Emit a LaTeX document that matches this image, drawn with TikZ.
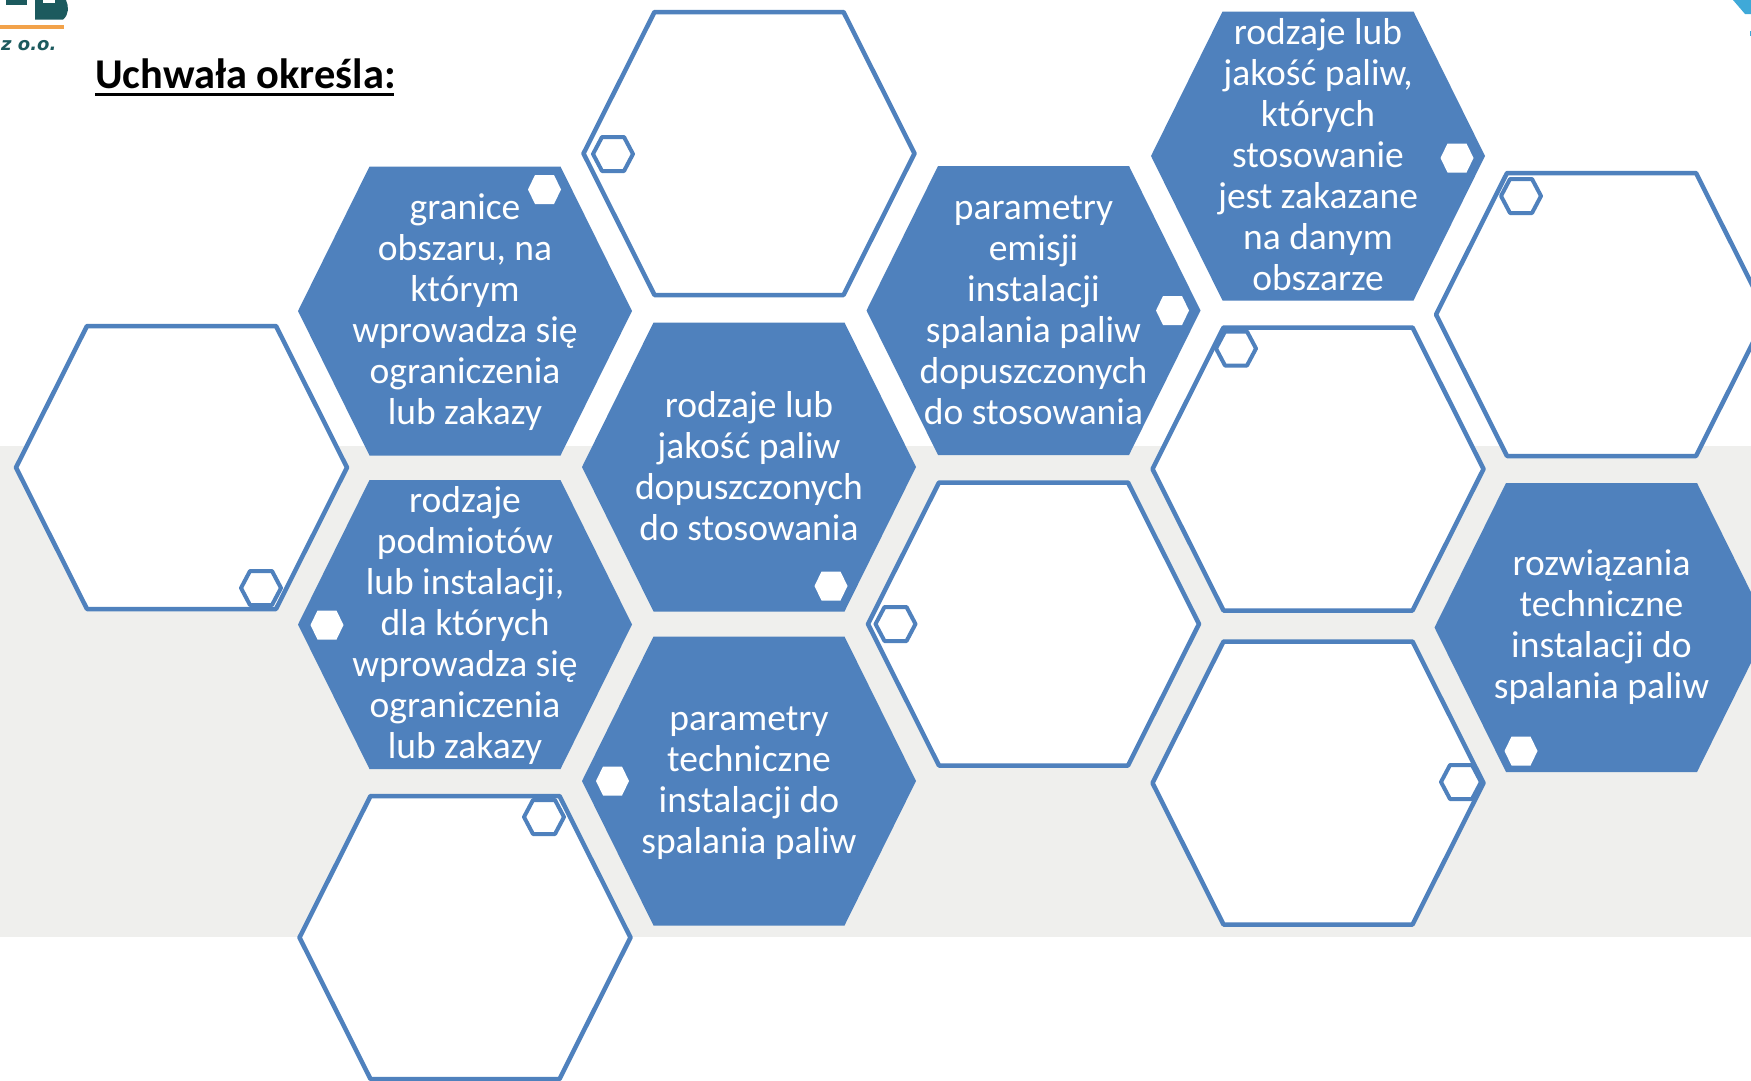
\documentclass[tikz,border=0pt]{standalone}
\usepackage{fontspec}
\setmainfont{Carlito}
\newfontfamily\logofont{DejaVu Sans}
\definecolor{hexblue}{HTML}{4F81BD}
\definecolor{band}{HTML}{EFEFED}
\definecolor{logoteal}{HTML}{1C5A5E}
\definecolor{logoorange}{HTML}{F2A24A}
\definecolor{logoblue}{HTML}{3FA9D8}
\newcommand{\hexshape}[6]{\draw[#1] (#2-#4,#3) -- (#2-#6,#3-#5) -- (#2+#6,#3-#5) -- (#2+#4,#3) -- (#2+#6,#3+#5) -- (#2-#6,#3+#5) -- cycle;}
\newcommand{\bigfilled}[2]{\hexshape{bigfill}{#1}{#2}{167}{144.5}{95.5}}
\newcommand{\bigoutline}[2]{\hexshape{bigline}{#1}{#2}{165.5}{141.5}{94.5}}
\newcommand{\smallfilled}[2]{\hexshape{tinyfill}{#1}{#2}{16.5}{14.5}{9.5}}
\newcommand{\smalloutline}[2]{\hexshape{tinyline}{#1}{#2}{20}{17}{11}}
\tikzset{
  bigfill/.style={fill=hexblue,draw=none},
  bigline/.style={fill=white,draw=hexblue,line width=4.5pt,line join=round},
  tinyfill/.style={fill=white,draw=none},
  tinyline/.style={fill=white,draw=hexblue,line width=4pt,line join=round},
  hextext/.style={text=white,align=center,font=\fontsize{37.5}{41}\selectfont,inner sep=0pt},
}
\begin{document}
\begin{tikzpicture}[x=1pt,y=-1pt]
\useasboundingbox (0,0) rectangle (1751,1080);
\clip (0,0) rectangle (1751,1080);
\fill[white] (0,0) rectangle (1751,1080);
\fill[band] (0,446) rectangle (1751,937);
% logo fragments
\fill[logoteal] (6,0) rectangle (27,4.5);
\fill[logoteal] (35,0) -- (66,0) .. controls (69,6) and (69,15) .. (63,19.5) -- (35,19.5) -- cycle;
\fill[white] (43,0) rectangle (55,2.5);
\fill[logoorange] (0,24.5) rectangle (64,29);
\node[anchor=base west,inner sep=0pt,text=logoteal,font=\logofont\fontsize{18}{20}\selectfont\bfseries\itshape] (logotext) at (1,50) {z o.o.};
\fill[logoblue] (1733,0) -- (1751,0) -- (1751,14) -- (1745,14) -- cycle;
\fill[logoblue] (1749.5,31) rectangle (1751,36);
% outline hexagons
\bigoutline{181.5}{467.5}
\bigoutline{749}{153.5}
\bigoutline{465}{937.5}
\bigoutline{1033.5}{624}
\bigoutline{1318}{469}
\bigoutline{1318}{783}
\bigoutline{1601.5}{314.5}
% filled hexagons
\bigfilled{465}{311}
\bigfilled{465}{624.5}
\bigfilled{749}{467}
\bigfilled{749}{781}
\bigfilled{1033.5}{310.5}
\bigfilled{1318}{156}
\bigfilled{1601.5}{627.5}
% small hexagons
\smalloutline{261}{588}
\smalloutline{613}{154}
\smalloutline{544}{817}
\smalloutline{895.5}{624}
\smalloutline{1236}{348.5}
\smalloutline{1461}{782}
\smalloutline{1521}{196}
\smallfilled{544.5}{189.5}
\smallfilled{327}{625}
\smallfilled{831}{586}
\smallfilled{612.5}{781}
\smallfilled{1172.5}{310.5}
\smallfilled{1457}{158}
\smallfilled{1521}{751}
% texts
\node[anchor=base west,inner sep=0pt,font=\fontsize{42.4}{48}\selectfont\bfseries] (title) at (95,88) {Uchwała określa:};
\draw[line width=3.5pt] (95,94.5) -- (394,94.5);
\node[hextext] (granice) at (465,312) {granice\\obszaru, na\\którym\\wprowadza się\\ograniczenia\\lub zakazy};
\node[hextext] (podmioty) at (465,625) {rodzaje\\podmiotów\\lub instalacji,\\dla których\\wprowadza się\\ograniczenia\\lub zakazy};
\node[hextext] (jakosc) at (749,466) {rodzaje lub\\jakość paliw\\dopuszczonych\\do stosowania};
\node[hextext] (techniczne) at (749,783) {parametry\\techniczne\\instalacji do\\spalania paliw};
\node[hextext] (emisja) at (1033.5,310) {parametry\\emisji\\instalacji\\spalania paliw\\dopuszczonych\\do stosowania};
\node[hextext] (zakazane) at (1318,155) {rodzaje lub\\jakość paliw,\\których\\stosowanie\\jest zakazane\\na danym\\obszarze};
\node[hextext] (rozwiazania) at (1601.5,627.5) {rozwiązania\\techniczne\\instalacji do\\spalania paliw};
\end{tikzpicture}
\end{document}
